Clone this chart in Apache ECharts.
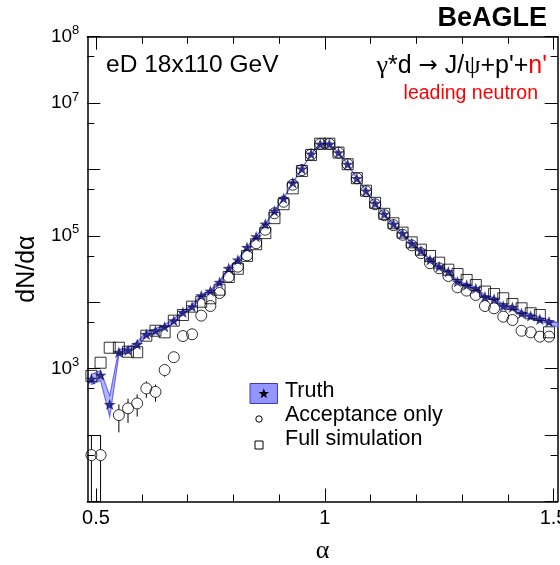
<!DOCTYPE html>
<html>
<head>
<meta charset="utf-8">
<script src="https://cdn.jsdelivr.net/npm/echarts@6/dist/echarts.min.js"></script>
<style>
  html, body { margin: 0; padding: 0; background: #fff; }
  #chart { width: 560px; height: 565px; }
</style>
</head>
<body>
<div id="chart"></div>
<script>
// Bin centres in alpha (bin width 0.02)
const alpha = [0.49, 0.51, 0.53, 0.55, 0.57, 0.59, 0.61, 0.63, 0.65, 0.67,
  0.69, 0.71, 0.73, 0.75, 0.77, 0.79, 0.81, 0.83, 0.85, 0.87,
  0.89, 0.91, 0.93, 0.95, 0.97, 0.99, 1.01, 1.03, 1.05, 1.07,
  1.09, 1.11, 1.13, 1.15, 1.17, 1.19, 1.21, 1.23, 1.25, 1.27,
  1.29, 1.31, 1.33, 1.35, 1.37, 1.39, 1.41, 1.43, 1.45, 1.47,
  1.49, 1.51];

// Truth: generator-level dN/dalpha and its uncertainty band
const truth = [700, 800, 290, 1770, 1900, 2330, 3300, 3730, 4290, 5290,
  7080, 8600, 12600, 14800, 20000, 32500, 43400, 67300, 97300, 151000,
  237000, 368000, 632000, 1020000, 1710000, 2420000, 2420000, 1790000, 1200000, 736000,
  475000, 310000, 213000, 151000, 109000, 77300, 59800, 43400, 34400, 28900,
  20400, 18200, 16200, 12100, 11200, 8790, 8410, 6830, 6220, 5550,
  5100, 4550];
const truthErr = [120, 140, 100, 170, 180, 200, 240, 260, 290, 320,
  380, 420, 520, 560, 680, 860, 1000, 1250, 1500, 1900,
  2400, 3000, 3900, 5000, 6400, 7600, 7600, 6500, 5300, 4200,
  3400, 2700, 2300, 1900, 1600, 1400, 1200, 1050, 950, 870,
  730, 690, 650, 560, 540, 480, 470, 420, 400, 380,
  360, 340];

// Acceptance only (null = empty bin)
const accOnly = [50, 50, null, 200, 253, 300, 505, 448, 955, 1490,
  3100, 3300, 6300, 8800, 13800, 24300, 34400, 51000, 77600, 124000,
  219000, 327000, 590000, 980000, 1680000, 2420000, 2420000, 1790000, 1200000, 736000,
  470000, 300000, 205000, 145000, 104000, 72000, 55000, 38700, 32500, 24900,
  16800, 15000, 12900, 8790, 8120, 6070, 5410, 3730, 3530, 3040,
  3040, 2900];
const accErr = [50, 50, 0, 90, 100, 110, 140, 130, 200, 250,
  350, 370, 500, 600, 750, 1000, 1200, 1500, 1900, 2400,
  3200, 3900, 5200, 6700, 8800, 10500, 10500, 9000, 7400, 5800,
  4600, 3700, 3000, 2600, 2200, 1800, 1600, 1300, 1200, 1050,
  850, 800, 750, 600, 580, 500, 470, 390, 380, 350,
  350, 340];

// Full simulation
const fullSim = [780, 1230, 2070, 2070, 1800, 1770, 3140, 3730, 3530, 5290,
  6440, 8600, 10200, 11500, 15500, 24000, 32000, 50000, 75000, 110000,
  185000, 300000, 520000, 950000, 1650000, 2450000, 2450000, 1800000, 1200000, 740000,
  480000, 315000, 215000, 155000, 112000, 80000, 62000, 49800, 39500, 31000,
  26700, 21700, 18200, 14500, 13300, 11500, 9420, 8120, 6830, 6440,
  3530, 2290];

// Axis ticks and labels
const xMajorTicks = [0.5, 1, 1.5];
const xMinorTicks = [0.6, 0.7, 0.8, 0.9, 1.1, 1.2, 1.3, 1.4];
const yMajorTicks = [10, 100, 1e3, 1e4, 1e5, 1e6, 1e7, 1e8];
const yMinorTicks = [50, 500, 5e3, 5e4, 5e5, 5e6, 5e7];
const yTickLabels = [1e3, 1e5, 1e7, 1e8];

const FONT = 'Liberation Sans';
const GREEK = 'Liberation Serif';
const X_MIN = 0.481, X_MAX = 1.509;
const Y_MIN = 10, Y_MAX = 1e8;
const CIRCLE_SIZE = 11;

function starPoints(cx, cy, R, r) {
  const pts = [];
  for (let k = 0; k < 10; k++) {
    const a = -Math.PI / 2 + k * Math.PI / 5;
    const rad = (k % 2) ? r : R;
    pts.push([cx + rad * Math.cos(a), cy + rad * Math.sin(a)]);
  }
  return pts;
}
const STAR = 'path://' + starPoints(50, 50, 50, 20)
  .map((p, i) => (i ? 'L' : 'M') + p[0].toFixed(2) + ' ' + p[1].toFixed(2)).join(' ') + ' Z';

const lineBlack = { color: '#000', width: 1.5 };

function xAxisDef(position, ticks, len, withLine, withLabel) {
  const ax = {
    type: 'value', position, min: X_MIN, max: X_MAX,
    splitLine: { show: false },
    axisLine: { show: withLine, lineStyle: lineBlack },
    axisTick: { show: true, inside: true, length: len, customValues: ticks, lineStyle: { color: '#000', width: 1 } },
    axisLabel: { show: false }
  };
  if (withLabel) {
    ax.axisLabel = {
      show: true, customValues: xMajorTicks, formatter: v => String(v),
      fontSize: 20, color: '#000', fontFamily: FONT, margin: 7
    };
    ax.name = 'α';
    ax.nameLocation = 'middle';
    ax.nameGap = 37;
    ax.nameTextStyle = { fontFamily: GREEK, fontSize: 26, color: '#000' };
  }
  return ax;
}

function yAxisDef(position, ticks, len, withLine, withLabel) {
  const ax = {
    type: 'log', logBase: 10, position, min: Y_MIN, max: Y_MAX,
    splitLine: { show: false },
    axisLine: { show: withLine, lineStyle: lineBlack },
    axisTick: { show: true, inside: true, length: len, customValues: ticks, lineStyle: { color: '#000', width: 1 } },
    axisLabel: { show: false }
  };
  if (withLabel) {
    ax.axisLabel = {
      show: true, customValues: yTickLabels, margin: 8, color: '#000',
      formatter: v => '{b|10}{e|' + Math.round(Math.log10(v)) + '}',
      rich: {
        b: { fontSize: 19, fontFamily: FONT, color: '#000' },
        e: { fontSize: 13, fontFamily: FONT, color: '#000', padding: [0, 0, 12, 0] }
      }
    };
    ax.name = 'dN/dα';
    ax.nameLocation = 'middle';
    ax.nameGap = 44;
    ax.nameTextStyle = { fontFamily: FONT, fontSize: 25, color: '#000' };
  }
  return ax;
}

const chart = echarts.init(document.getElementById('chart'), null, { renderer: 'canvas' });

const option = {
  animation: false,
  backgroundColor: '#fff',
  textStyle: { fontFamily: FONT },
  grid: { left: 87.3, right: 2.3, top: 36.7, bottom: 63.5, containLabel: false, outerBoundsMode: 'none' },
  xAxis: [
    xAxisDef('bottom', xMajorTicks, 13, true, true),
    xAxisDef('bottom', xMinorTicks, 7, false, false),
    xAxisDef('top', xMajorTicks, 13, true, false),
    xAxisDef('top', xMinorTicks, 7, false, false)
  ],
  yAxis: [
    yAxisDef('left', yMajorTicks, 13, true, true),
    yAxisDef('left', yMinorTicks, 7, false, false),
    yAxisDef('right', yMajorTicks, 13, true, false),
    yAxisDef('right', yMinorTicks, 7, false, false)
  ],
  series: [
    {
      // Truth uncertainty band
      type: 'custom', name: 'Truth band', xAxisIndex: 0, yAxisIndex: 0, clip: true, z: 1,
      data: [[alpha[0], truth[0]]],
      renderItem: (params, api) => {
        const upper = alpha.map((a, i) => api.coord([a, truth[i] + truthErr[i]]));
        const lower = alpha.map((a, i) => api.coord([a, Math.max(truth[i] - truthErr[i], 1)])).reverse();
        return {
          type: 'polygon',
          shape: { points: upper.concat(lower) },
          style: { fill: 'rgba(140,140,255,0.65)', stroke: 'rgba(90,90,235,0.85)', lineWidth: 1.2 }
        };
      }
    },
    {
      // Acceptance-only error bars, interrupted where the marker sits
      type: 'custom', name: 'Acceptance err', xAxisIndex: 0, yAxisIndex: 0, clip: true, z: 2,
      data: alpha.map((a, i) => accOnly[i] == null ? [a, null, null, null] :
        [a, Math.max(accOnly[i] - accErr[i], 1), accOnly[i] + accErr[i], accOnly[i]]),
      encode: { x: 0, y: [1, 2] },
      renderItem: (params, api) => {
        if (api.value(1) == null || isNaN(api.value(1))) return null;
        const x = api.value(0);
        const pLo = api.coord([x, api.value(1)]);
        const pHi = api.coord([x, api.value(2)]);
        const pc = api.coord([x, api.value(3)]);
        const r = CIRCLE_SIZE / 2;
        const children = [];
        if (pHi[1] < pc[1] - r) children.push({ type: 'line',
          shape: { x1: pc[0], y1: pHi[1], x2: pc[0], y2: pc[1] - r }, style: { stroke: '#000', lineWidth: 1 } });
        if (pLo[1] > pc[1] + r) children.push({ type: 'line',
          shape: { x1: pc[0], y1: pc[1] + r, x2: pc[0], y2: pLo[1] }, style: { stroke: '#000', lineWidth: 1 } });
        return { type: 'group', children };
      }
    },
    {
      type: 'scatter', name: 'Acceptance only', xAxisIndex: 0, yAxisIndex: 0, z: 3,
      symbol: 'circle', symbolSize: CIRCLE_SIZE,
      itemStyle: { color: 'rgba(255,255,255,0)', borderColor: '#000', borderWidth: 1 },
      data: alpha.map((a, i) => [a, accOnly[i]]).filter(d => d[1] != null)
    },
    {
      type: 'scatter', name: 'Full simulation', xAxisIndex: 0, yAxisIndex: 0, z: 4,
      symbol: 'rect', symbolSize: 11,
      itemStyle: { color: 'rgba(255,255,255,0)', borderColor: '#000', borderWidth: 1 },
      data: alpha.map((a, i) => [a, fullSim[i]])
    },
    {
      type: 'scatter', name: 'Truth', xAxisIndex: 0, yAxisIndex: 0, z: 5,
      symbol: STAR, symbolKeepAspect: true, symbolSize: 12,
      itemStyle: { color: '#0b0b6e' },
      data: alpha.map((a, i) => [a, truth[i]])
    }
  ],
  graphic: [
    { type: 'text', right: 13, top: 5, style: { text: 'BeAGLE', fontFamily: FONT, fontWeight: 'bold', fontSize: 27, fill: '#000' } },
    { type: 'text', left: 106, top: 53, style: { text: 'eD 18x110 GeV', fontFamily: FONT, fontSize: 24.5, fill: '#000' } },
    { type: 'text', right: 13, top: 53, style: {
        text: '{g|γ}{k|*d }{a|→}{k| J/}{g|ψ}{k|+p\'+}{r|n\'}',
        rich: {
          k: { fontFamily: FONT, fontSize: 25, fill: '#000' },
          g: { fontFamily: GREEK, fontSize: 26, fill: '#000' },
          a: { fontFamily: 'DejaVu Sans', fontSize: 23, fill: '#000' },
          r: { fontFamily: FONT, fontSize: 25, fill: '#f00' }
        }
      } },
    { type: 'text', right: 22, top: 84, style: { text: 'leading neutron', fontFamily: FONT, fontSize: 19.5, fill: '#f00' } },
    // Legend
    { type: 'rect', shape: { x: 250, y: 383.5, width: 27.5, height: 20 },
      style: { fill: 'rgba(130,130,255,0.85)', stroke: '#3a3ad0', lineWidth: 1 } },
    { type: 'polygon', shape: { points: starPoints(263.8, 393.8, 5.5, 2.2) }, style: { fill: '#000' } },
    { type: 'text', left: 285, top: 380.5, style: { text: 'Truth', fontFamily: FONT, fontSize: 21.5, fill: '#000' } },
    { type: 'circle', shape: { cx: 259, cy: 419, r: 3.2 }, style: { fill: 'none', stroke: '#000', lineWidth: 1 } },
    { type: 'text', left: 285, top: 404.5, style: { text: 'Acceptance only', fontFamily: FONT, fontSize: 21.5, fill: '#000' } },
    { type: 'rect', shape: { x: 255, y: 441, width: 8, height: 8 }, style: { fill: 'none', stroke: '#000', lineWidth: 1 } },
    { type: 'text', left: 285, top: 428.5, style: { text: 'Full simulation', fontFamily: FONT, fontSize: 21.5, fill: '#000' } }
  ]
};

chart.setOption(option);
</script>
</body>
</html>
